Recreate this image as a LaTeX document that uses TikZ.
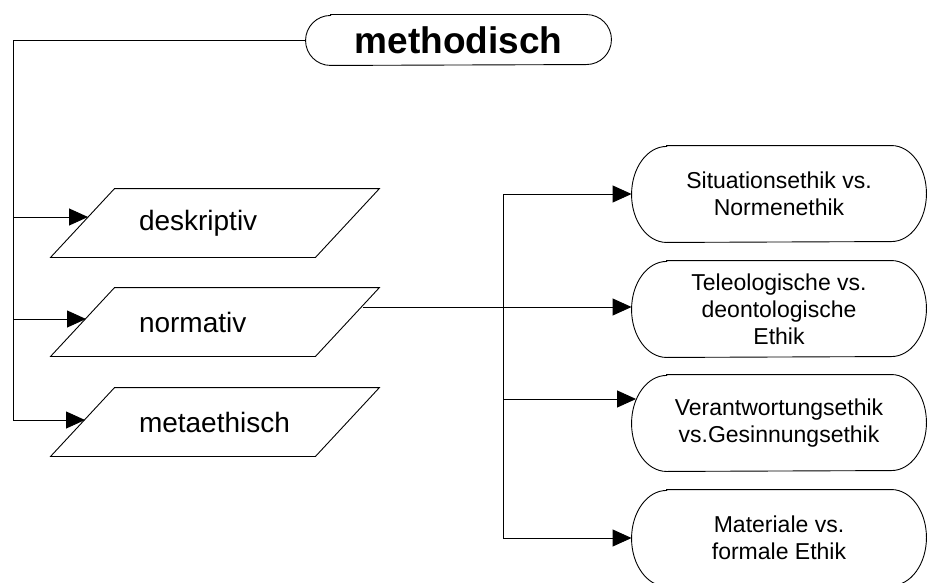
\documentclass[tikz,border=0pt]{standalone}
\usepackage{fontspec}
\setmainfont{Liberation Sans}
\usetikzlibrary{arrows.meta,calc}
\newcommand\mypgram[1]{\draw ([xshift=32pt]#1.north west) -- ([xshift=32pt]#1.north east) -- ([xshift=-32pt]#1.south east) -- ([xshift=-32pt]#1.south west) -- cycle;}
\newcommand\mycapsule[3]{\draw ([xshift=#2]#1.north west) -- ([xshift=-#2]#1.north east) arc[start angle=90,end angle=-90,x radius=#2,y radius=#3] -- ([xshift=#2]#1.south west) arc[start angle=270,end angle=90,x radius=#2,y radius=#3] -- cycle;}
\begin{document}
\begin{tikzpicture}[x=1pt,y=-1pt,
  line width=0.9pt,
  arr/.style={-{Triangle[length=19pt,width=17pt]}},
  para/.style={minimum width=264pt,minimum height=68pt,inner xsep=0pt,text width=152pt,align=left,font=\fontsize{28}{32}\selectfont},
  ebox/.style={minimum width=294pt,minimum height=96pt,inner sep=0pt,align=center,font=\fontsize{23}{27}\selectfont},
  topbox/.style={minimum width=305pt,minimum height=50pt,inner sep=0pt,font=\fontsize{37}{40}\selectfont\bfseries}
]
\useasboundingbox (0,0) rectangle (928,583);

\node[topbox] (meth) at (458.5,40) {methodisch};
\node[para] (desk) at (215,223) {deskriptiv};
\node[para] (norm) at (215,322) {normativ};
\node[para] (meta) at (215,422) {\mbox{metaethisch}};
\node[ebox] (sit) at (779,194) {Situationsethik vs.\\Normenethik};
\node[ebox] (tel) at (779,309) {Teleologische vs.\\deontologische\\Ethik};
\node[ebox] (ver) at (779,423) {Verantwortungsethik\\vs.Gesinnungsethik};
\node[ebox] (mat) at (779,538) {Materiale vs.\\formale Ethik};

\mycapsule{meth}{25pt}{25pt}
\mypgram{desk}
\mypgram{norm}
\mypgram{meta}
\mycapsule{sit}{35pt}{48pt}
\mycapsule{tel}{35pt}{48pt}
\mycapsule{ver}{35pt}{48pt}
\mycapsule{mat}{35pt}{48pt}

% left bus
\coordinate (lbus) at (13,0);
\coordinate (dIn) at (88,217);
\coordinate (nIn) at (86,319);
\coordinate (mIn) at (85,420);
\draw[arr] (meth.west) -| (lbus |- mIn) -- (mIn);
\draw[arr] (lbus |- dIn) -- (dIn);
\draw[arr] (lbus |- nIn) -- (nIn);

% right bus
\coordinate (rbus) at (503,0);
\coordinate (nOut) at (363,307);
\coordinate (vIn) at ($(ver.west)+(4.5,-24)$);
\draw (rbus |- sit.west) -- (rbus |- mat.west);
\draw[arr] (rbus |- sit.west) -- (sit.west);
\draw[arr] (nOut) -- (tel.west |- nOut);
\draw[arr] (rbus |- vIn) -- (vIn);
\draw[arr] (rbus |- mat.west) -- (mat.west);
\end{tikzpicture}
\end{document}
